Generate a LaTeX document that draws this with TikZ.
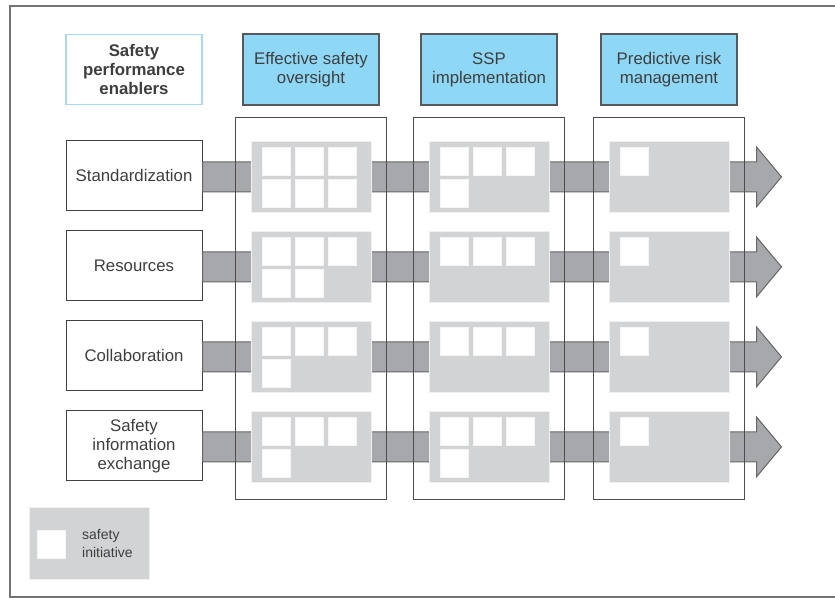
\documentclass[tikz,border=0pt]{standalone}
\usepackage{fontspec}
\setmainfont{Liberation Sans}
\usetikzlibrary{positioning,calc}
\definecolor{hdrblue}{RGB}{143,216,245}
\definecolor{hdrline}{RGB}{165,218,242}
\definecolor{bandgray}{RGB}{167,168,171}
\definecolor{panelgray}{RGB}{210,211,213}
\definecolor{txtgray}{RGB}{62,62,62}

\begin{document}
\begin{tikzpicture}[x=0.5pt,y=-0.5pt,
		every node/.style={text=txtgray,font=\fontsize{8.4}{9.5}\selectfont,align=center,inner sep=0pt},
		enabler/.style={draw=black!75,line width=0.5pt,minimum width=68pt,minimum height=35pt},
		phase/.style={draw=black!65,fill=hdrblue,line width=0.7pt,minimum width=68pt,minimum height=35.5pt},
		column/.style={draw=black!70,line width=0.5pt,minimum width=75.5pt,minimum height=191pt},
		panel/.style={fill=panelgray,draw=black!6,line width=0.3pt,minimum width=60pt,minimum height=35.5pt},
		initiative/.style={fill=white,draw=black!4,line width=0.3pt,minimum size=14pt},
		band/.style={fill=bandgray,draw=black!60,line width=0.5pt}]
			\useasboundingbox (0,0) rectangle (835,598);
			\draw [black!55,line width=0.9pt] (10,6) rectangle (850,597);

			% headers
			\node [enabler,draw=hdrline,line width=0.9pt,font=\fontsize{8.4}{9.5}\selectfont\bfseries] (enablers) at (134,69.5) {Safety\\performance\\enablers};
			\node [phase] (oversight) at (311,69.5) {Effective safety\\oversight};
			\node [phase] (ssp) at (489,69.5) {SSP\\implementation};
			\node [phase] (predictive) at (669,69.5) {Predictive risk\\management};

			% enablers
			\node [enabler,below=17.5pt of enablers] (std) {Standardization};
			\node [enabler,below=9.5pt of std] (res) {Resources};
			\node [enabler,below=9.5pt of res] (clb) {Collaboration};
			\node [enabler,below=9.5pt of clb] (sie) {Safety\\information\\exchange};

			% arrows
			\foreach \e in {std,res,clb,sie}
				\draw [band] ([yshift=7pt]\e.east) -- ++(554,0) -- ++(0,-15) -- ++(25,30) -- ++(-25,30) -- ++(0,-15) -- ++(-554,0) -- cycle;

			% columns
			\node [column,below=5.5pt of oversight] (col1) {};
			\node [column,below=5.5pt of ssp] (col2) {};
			\node [column,below=5.5pt of predictive] (col3) {};

			% panels and safety initiatives
			\foreach \e/\c/\n in {std/col1/6,std/col2/4,std/col3/1,res/col1/5,res/col2/3,res/col3/1,
					clb/col1/4,clb/col2/3,clb/col3/1,sie/col1/4,sie/col2/4,sie/col3/1} {
				\node [panel] (\e-\c) at ([yshift=-0.5pt]\c |- \e) {};
				\foreach \k in {1,...,\n} {
					\pgfmathtruncatemacro\i{mod(\k-1,3)}
					\pgfmathtruncatemacro\j{(\k-1)/3}
					\node [initiative] (\e-\c-\k) at ($(\e-\c.north west)+(26+33*\i,20+32.5*\j)$) {};
				}
			}

			% legend
			\node [panel,minimum height=36pt] (legend) at (89,543) {};
			\node [initiative] (legend-sq) at (51.5,544) {};
			\node [right=8pt of legend-sq,align=left,font=\fontsize{7}{9}\selectfont] (legend-txt) {safety\\initiative};
		\end{tikzpicture}
\end{document}
